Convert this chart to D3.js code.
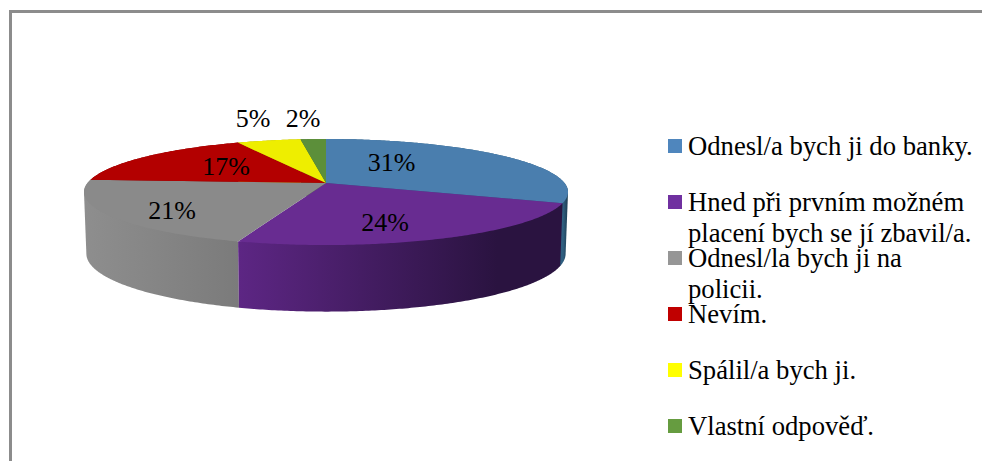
<!DOCTYPE html>
<html>
<head>
<meta charset="utf-8">
<script src="https://cdn.jsdelivr.net/npm/d3@7"></script>
<style>
html,body{margin:0;padding:0;background:#fff;overflow:hidden}
svg{display:block}
text{font-family:"Liberation Serif","Times New Roman",serif;fill:#000}
</style>
</head>
<body>
<svg id="c" width="982" height="461"></svg>
<script>
const categories = [
  ["Odnesl/a bych ji do banky."],
  ["Hned při prvním možném","placení bych se jí zbavil/a."],
  ["Odnesl/la bych ji na","policii."],
  ["Nevím."],
  ["Spálil/a bych ji."],
  ["Vlastní odpověď."]
];
const values = [31, 24, 21, 17, 5, 2];
const topColors = ["#4a7eae","#682c91","#8a8a8a","#b30000","#eeee00","#5c8f3a"];
const legendColors = ["#4f86bd","#7030a0","#969696","#c00000","#ffff00","#669c40"];
const sideStart = ["#2f5f80","#5d2684","#8e8e8e","#800000","#aaaa00","#40682a"];
const sideEnd = ["#1c3a50","#2a1340","#7b7b7b","#800000","#aaaa00","#40682a"];
const labelNudge = [[-28.6,1.8],[4,22.8],[-50.4,20.8],[-5.9,5.8],[-15.8,-13.5],[-10.2,-12.1]];
const labelRim = [0.5,0.5,0.5,0.5,1,1];

const svg = d3.select("#c");
const W = 982, H = 461;
svg.append("path").attr("d",`M10.5 ${H}V11.5H${W}`).attr("fill","none")
   .attr("stroke","#8c8c8c").attr("stroke-width",3);

const cx=326, cy=183, R=238.5, Q=51.5, P=0.17;
const project=(t,r=1)=>{const w=1+P*r*Math.cos(t);
  return [cx+R*r*Math.sin(t)/w, cy-Q*r*Math.cos(t)/w];};
const under=([x,y])=>[cx+(x-cx)*0.99, cy+61+(y-cy)*1.09];
const arcs=d3.pie().sort(null).value(d=>d)(values);
const line=d3.line();
const sample=a=>{const n=Math.max(4,Math.ceil((a.endAngle-a.startAngle)*90));
  return d3.range(n+1).map(i=>a.startAngle+(a.endAngle-a.startAngle)*i/n);};

const defs=svg.append("defs");
const sideOrder=d3.range(arcs.length).sort((a,b)=>
  Math.cos(arcs[b].startAngle/2+arcs[b].endAngle/2)-Math.cos(arcs[a].startAngle/2+arcs[a].endAngle/2));
sideOrder.forEach(i=>{
  const pts=sample(arcs[i]).map(t=>project(t));
  const xs=pts.map(p=>p[0]);
  const left=i===0?d3.max(xs)-5:d3.min(xs), right=d3.max(xs);
  const g=defs.append("linearGradient").attr("id","s"+i).attr("gradientUnits","userSpaceOnUse")
    .attr("x1",left).attr("x2",right).attr("y1",0).attr("y2",0);
  g.append("stop").attr("offset",0).attr("stop-color",sideStart[i]);
  g.append("stop").attr("offset",i===1?0.8:1).attr("stop-color",sideEnd[i]);
  const hull=d3.polygonHull(pts.concat(pts.map(under)));
  svg.append("path").attr("d",line(hull)+"Z").attr("fill",`url(#s${i})`);
});
arcs.forEach((a,i)=>{
  svg.append("path")
    .attr("d",line([[cx,cy]].concat(sample(a).map(t=>project(t))))+"Z")
    .attr("fill",topColors[i]);
});
arcs.forEach((a,i)=>{
  const [x,y]=project((a.startAngle+a.endAngle)/2,labelRim[i]);
  svg.append("text").attr("x",x+labelNudge[i][0]).attr("y",y+labelNudge[i][1])
    .attr("text-anchor","middle").attr("font-size",26).text(values[i]+"%");
});
const legY=d3.scalePoint().domain(d3.range(categories.length)).range([139,419]);
categories.forEach((lines,i)=>{
  svg.append("rect").attr("x",668).attr("y",legY(i)).attr("width",14).attr("height",14)
    .attr("fill",legendColors[i]);
  const t=svg.append("text").attr("x",688).attr("y",legY(i)+16).attr("font-size",26.67);
  lines.forEach((s,j)=>t.append("tspan").attr("x",688).attr("dy",j?31:0).text(s));
});
</script>
</body>
</html>
